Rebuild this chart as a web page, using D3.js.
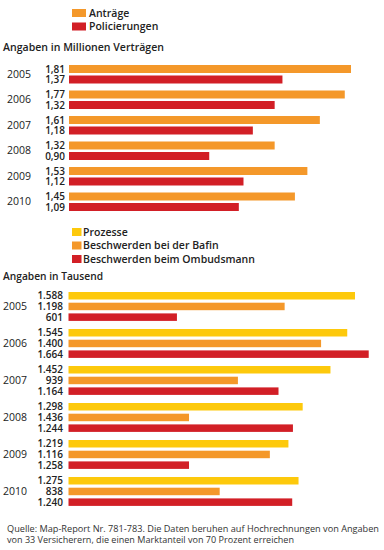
<!DOCTYPE html>
<html>
<head>
<meta charset="utf-8">
<script src="https://cdn.jsdelivr.net/npm/d3@7"></script>
<style>
  body { margin: 0; background: #fff; }
  svg { display: block; font-family: "Open Sans", "DejaVu Sans", sans-serif; }
</style>
</head>
<body>
<svg id="chart" width="384" height="550"></svg>
<script>
// --- data: top chart (Millionen Verträge)
const years = ['2005', '2006', '2007', '2008', '2009', '2010'];
const antraege = [1.81, 1.77, 1.61, 1.32, 1.53, 1.45];
const policierungen = [1.37, 1.32, 1.18, 0.90, 1.12, 1.09];

// --- data: bottom chart (Tausend)
// bar lengths as drawn in the picture
const prozesse = [1588, 1545, 1452, 1298, 1219, 1275];
const bafin = [1198, 1400, 939, 668, 1116, 838];
const ombudsmann = [601, 1664, 1164, 1244, 668, 1240];
// printed labels
const prozesseLabels = ['1.588', '1.545', '1.452', '1.298', '1.219', '1.275'];
const bafinLabels = ['1.198', '1.400', '939', '1.436', '1.116', '838'];
const ombudsmannLabels = ['601', '1.664', '1.164', '1.244', '1.258', '1.240'];

const colors = { yellow: '#fdc90c', orange: '#f4982a', red: '#d21f26' };

const svg = d3.select('#chart');

function legend(g, items, sw, sh, step, textX) {
    items.forEach((it, i) => {
        g.append('rect')
            .attr('x', 0).attr('y', i * step)
            .attr('width', sw).attr('height', sh)
            .attr('fill', it.color);
        g.append('text')
            .attr('x', textX).attr('y', i * step + sh / 2)
            .attr('dy', '0.36em')
            .attr('font-size', '10.5px')
            .attr('font-weight', 600)
            .attr('fill', '#222')
            .text(it.label);
    });
}

// ---------- top chart ----------
legend(svg.append('g').attr('transform', 'translate(72,9)'),
    [{ label: 'Anträge', color: colors.orange }, { label: 'Policierungen', color: colors.red }],
    14, 8, 13.5, 17);

svg.append('text')
    .attr('x', 3).attr('y', 51)
    .attr('font-size', '10.5px').attr('font-weight', 600).attr('fill', '#222')
    .attr('textLength', 161).attr('lengthAdjust', 'spacingAndGlyphs')
    .text('Angaben in Millionen Verträgen');

const x1 = d3.scaleLinear().domain([0, 1.81]).range([69, 351]);
const y1 = d3.scaleBand().domain(years).range([64, 217]).padding(0);

const gTop = svg.append('g');
const fmt1 = d3.format('.2f');
const series1 = [
    { vals: antraege, color: colors.orange, off: 1 },
    { vals: policierungen, color: colors.red, off: 11.5 }
];

years.forEach((yr, i) => {
    const y0 = y1(yr);
    series1.forEach(s => {
        gTop.append('rect')
            .attr('x', x1(0)).attr('y', y0 + s.off)
            .attr('width', x1(s.vals[i]) - x1(0)).attr('height', 8)
            .attr('fill', s.color);
        gTop.append('text')
            .attr('x', 65).attr('y', y0 + s.off + 4)
            .attr('dy', '0.36em').attr('text-anchor', 'end')
            .attr('font-size', '10px').attr('font-weight', 600).attr('fill', '#222')
            .text(fmt1(s.vals[i]).replace('.', ','));
    });
    gTop.append('text')
        .attr('x', 7).attr('y', y0 + 10.2)
        .attr('dy', '0.36em')
        .attr('font-size', '10.5px').attr('fill', '#222')
        .text(yr);
});

// ---------- bottom chart ----------
legend(svg.append('g').attr('transform', 'translate(72,228)'),
    [{ label: 'Prozesse', color: colors.yellow },
     { label: 'Beschwerden bei der Bafin', color: colors.orange },
     { label: 'Beschwerden beim Ombudsmann', color: colors.red }],
    9.5, 8, 13.5, 11);

svg.append('text')
    .attr('x', 3).attr('y', 280)
    .attr('font-size', '10.5px').attr('font-weight', 600).attr('fill', '#222')
    .attr('textLength', 100).attr('lengthAdjust', 'spacingAndGlyphs')
    .text('Angaben in Tausend');

const x2 = d3.scaleLinear().domain([0, 1588]).range([68.5, 355]);
const y2 = d3.scaleBand().domain(years).range([292, 514]).padding(0);

const gBottom = svg.append('g');
const series2 = [
    { vals: prozesse, labels: prozesseLabels, color: colors.yellow, off: 0 },
    { vals: bafin, labels: bafinLabels, color: colors.orange, off: 10.7 },
    { vals: ombudsmann, labels: ombudsmannLabels, color: colors.red, off: 21.4 }
];

years.forEach((yr, i) => {
    const y0 = y2(yr);
    series2.forEach(s => {
        gBottom.append('rect')
            .attr('x', x2(0)).attr('y', y0 + s.off)
            .attr('width', x2(s.vals[i]) - x2(0)).attr('height', 7.5)
            .attr('fill', s.color);
        gBottom.append('text')
            .attr('x', 63).attr('y', y0 + s.off + 3.8)
            .attr('dy', '0.36em').attr('text-anchor', 'end')
            .attr('font-size', '10px').attr('font-weight', 600).attr('fill', '#222')
            .text(s.labels[i]);
    });
    gBottom.append('text')
        .attr('x', 3).attr('y', y0 + 14.5)
        .attr('dy', '0.36em')
        .attr('font-size', '10.5px').attr('fill', '#222')
        .text(yr);
});

// ---------- source ----------
const src = svg.append('text')
    .attr('font-size', '8.6px').attr('fill', '#333');
src.append('tspan').attr('x', 7).attr('y', 532)
    .attr('textLength', 372).attr('lengthAdjust', 'spacingAndGlyphs')
    .text('Quelle: Map-Report Nr. 781-783. Die Daten beruhen auf Hochrechnungen von Angaben');
src.append('tspan').attr('x', 7).attr('y', 543)
    .attr('textLength', 287).attr('lengthAdjust', 'spacingAndGlyphs')
    .text('von 33 Versicherern, die einen Marktanteil von 70 Prozent erreichen');
</script>
</body>
</html>
